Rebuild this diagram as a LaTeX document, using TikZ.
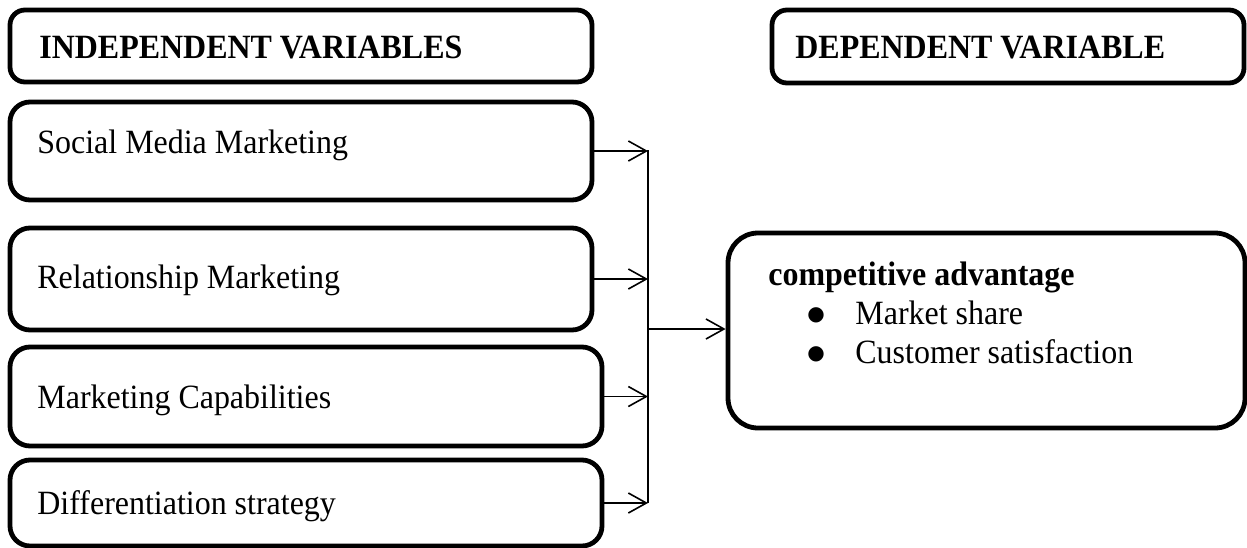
\documentclass[tikz,border=0pt]{standalone}
\usepackage{fontspec}
\setmainfont{Liberation Serif}[FakeStretch=0.94]
\newfontfamily\symfont{DejaVu Sans}
\usetikzlibrary{arrows.meta}
\newcommand{\bigbul}{{\symfont\fontsize{10pt}{10pt}\selectfont\raisebox{2pt}{●}}}
\begin{document}
\begin{tikzpicture}[x=0.5pt,y=-0.5pt,
  box/.style={draw, line width=2.4pt, rounded corners=10pt, inner sep=0pt},
  hdr/.style={box, rounded corners=7.5pt},
  cabox/.style={box, rounded corners=15pt},
  lbl/.style={anchor=base west, inner sep=0pt, font=\fontsize{17pt}{19.5pt}\selectfont},
  hlbl/.style={anchor=base west, inner sep=0pt, font=\fontsize{17pt}{19.5pt}\selectfont\bfseries},
  conn/.style={line width=0.8pt},
  arr/.style={conn, -{Straight Barb[length=9pt,width=10pt,line width=0.8pt]}}]
\useasboundingbox (0,0) rectangle (1247,547);
% headers
\node[hdr, minimum width=291pt, minimum height=36pt] (ivh) at (301,46) {};
\node[hlbl] (ivt) at (39,58) {INDEPENDENT VARIABLES};
\node[hdr, minimum width=236pt, minimum height=36.5pt] (dvh) at (1008,46.5) {};
\node[hlbl] (dvt) at (795,58) {DEPENDENT VARIABLE};
% independent variable boxes
\node[box, minimum width=291pt, minimum height=49pt] (s1) at (301,151) {};
\node[lbl] (s1t) at (37,153) {Social Media Marketing};
\node[box, minimum width=291pt, minimum height=51pt] (s2) at (301,279) {};
\node[lbl] (s2t) at (37,288) {Relationship Marketing};
\node[box, minimum width=296pt, minimum height=49.5pt] (s3) at (306,396.5) {};
\node[lbl] (s3t) at (37,408) {Marketing Capabilities};
\node[box, minimum width=296pt, minimum height=43pt] (s4) at (306,503) {};
\node[lbl] (s4t) at (37,514) {Differentiation strategy};
% dependent variable box
\node[cabox, minimum width=258.5pt, minimum height=97.5pt] (ca) at (986.5,330.5) {};
\node[hlbl] (cat) at (768,285) {competitive advantage};
\node[lbl] (cab1) at (807,324) {\makebox[24pt][l]{\bigbul}Market share};
\node[lbl] (cab2) at (807,363) {\makebox[24pt][l]{\bigbul}Customer satisfaction};
% connectors
\coordinate (jtop) at (648,150);
\coordinate (jbot) at (648,503);
\coordinate (jmid) at (648,329);
\draw[conn] (jtop) -- (jbot);
\draw[arr] (s1.east) -- (s1.east -| jtop);
\draw[arr] (s2.east) -- (s2.east -| jtop);
\draw[arr] (s3.east) -- (s3.east -| jtop);
\draw[arr] (s4.east) -- (s4.east -| jtop);
\draw[arr] (jmid) -- (ca.west |- jmid);
\end{tikzpicture}
\end{document}
